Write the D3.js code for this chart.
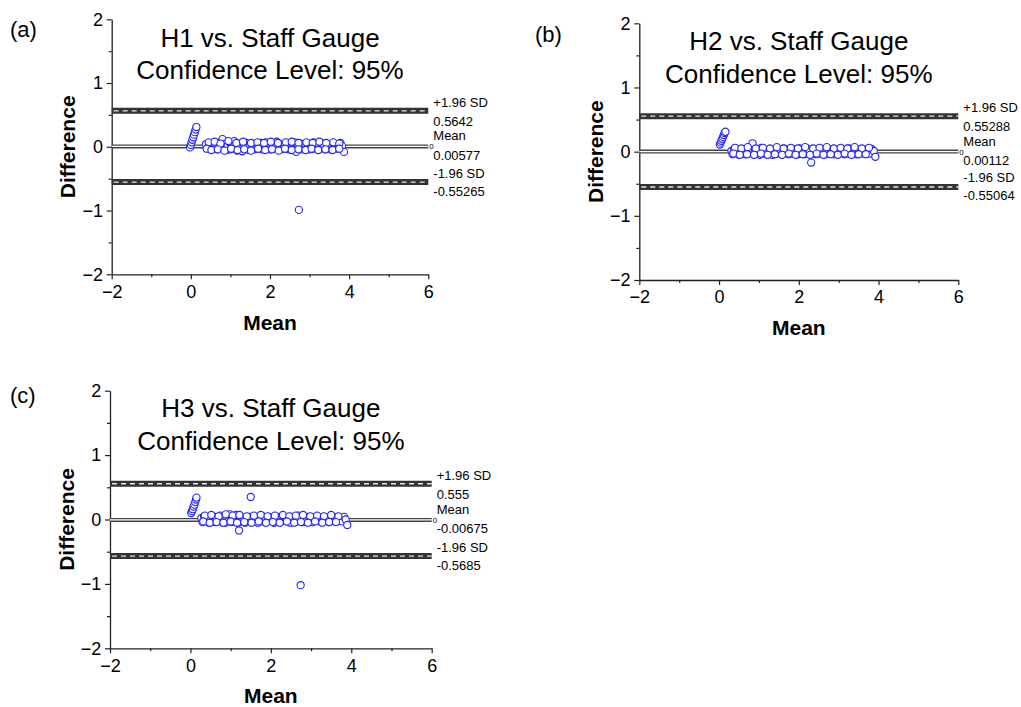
<!DOCTYPE html>
<html><head><meta charset="utf-8">
<script src="https://cdn.jsdelivr.net/npm/d3@7"></script>
<style>
body{margin:0;background:#fff}
svg{display:block}
text{font-family:"Liberation Sans",Arial,sans-serif;fill:#000}
</style>
</head><body>
<svg id="chart" width="1021" height="707"></svg>
<script>
// ---------- data ----------
const xTicks = [-2, 0, 2, 4, 6];
const xMinor = [-1, 1, 3, 5];
const yTicks = [-2, -1, 0, 1, 2];
const yMinor = [-1.5, -0.5, 0.5, 1.5];
const panelTags = ["(a)", "(b)", "(c)"];
const titleLines1 = ["H1 vs. Staff Gauge", "H2 vs. Staff Gauge", "H3 vs. Staff Gauge"];
const titleLine2 = "Confidence Level: 95%";
const upperLoA = [0.5642, 0.55288, 0.555];
const meanDiff = [0.00577, 0.00112, -0.00675];
const lowerLoA = [-0.55265, -0.55064, -0.5685];
const xLabel = "Mean";
const yLabel = "Difference";

const pointsH1 = [
[-0.02,-0.01],[0.0,0.03],[0.02,0.07],[0.04,0.11],[0.06,0.15],[0.08,0.19],[0.1,0.23],[0.12,0.27],[0.14,0.31],
[0.38,0.04],[0.42,-0.02],[0.47,0.05],[0.5,0.0],[0.55,-0.03],[0.58,0.06],[0.62,0.02],[0.66,-0.04],[0.7,0.03],[0.73,-0.02],
[0.77,0.08],[0.8,0.12],[0.83,-0.03],[0.86,0.05],[0.9,-0.05],[0.93,0.02],[0.97,0.07],[1.0,-0.04],[1.04,0.04],[1.07,-0.02],
[1.1,0.09],[1.13,0.03],[1.17,-0.06],[1.2,0.05],[1.24,-0.03],[1.27,0.02],[1.3,-0.07],[1.34,0.04],[1.37,-0.03],[1.4,0.06],
[1.44,0.0],[1.47,-0.05],[1.5,0.03],[1.54,-0.03],[1.57,0.05],[1.6,-0.04],[1.64,0.02],[1.67,-0.03],[1.7,0.04],[1.74,-0.02],
[1.77,0.06],[1.8,-0.04],[1.84,0.03],[1.87,-0.03],[1.9,0.07],[1.94,-0.02],[1.97,0.04],[2.0,-0.04],[2.04,0.03],[2.07,-0.03],
[2.1,0.05],[2.14,-0.02],[2.17,0.08],[2.2,-0.03],[2.24,0.04],[2.27,-0.04],[2.3,0.02],[2.34,-0.03],[2.37,0.05],[2.4,-0.02],
[2.44,0.03],[2.47,-0.04],[2.5,0.06],[2.54,-0.03],[2.57,0.04],[2.6,-0.05],[2.63,0.07],[2.66,-0.08],[2.7,0.03],[2.73,-0.03],
[2.77,0.05],[2.8,-0.04],[2.84,0.02],[2.87,-0.03],[2.9,0.04],[2.94,-0.02],[2.97,0.03],[3.0,-0.04],[3.04,0.05],[3.07,-0.03],
[3.1,0.07],[3.14,-0.02],[3.17,0.03],[3.2,-0.04],[3.24,0.04],[3.27,-0.03],[3.3,0.06],[3.34,-0.02],[3.37,0.03],[3.4,-0.04],
[3.44,0.04],[3.47,-0.03],[3.5,0.02],[3.54,-0.04],[3.57,0.03],[3.6,-0.02],[3.64,0.04],[3.67,-0.03],[3.7,0.02],[3.74,-0.02],
[3.78,0.06],[3.82,0.01],[3.87,-0.08],
[0.45,0.07],[0.6,0.08],[0.75,0.05],[0.95,0.09],[1.15,0.06],[1.32,0.08],[1.52,0.06],[1.68,0.07],[1.85,0.06],[2.02,0.08],
[2.2,0.06],[2.4,0.07],[2.55,0.08],[2.72,0.06],[2.92,0.07],[3.08,0.06],[3.25,0.08],[3.42,0.06],[3.6,0.07],[3.75,0.05],
[0.4,-0.03],[0.52,-0.05],[0.68,-0.04],[0.85,-0.06],[1.02,-0.03],[1.18,-0.05],[1.35,-0.04],[1.52,-0.06],[1.7,-0.03],[1.88,-0.05],
[2.05,-0.04],[2.22,-0.06],[2.38,-0.03],[2.55,-0.05],[2.72,-0.04],[2.9,-0.05],[3.05,-0.03],[3.22,-0.05],[3.4,-0.04],[3.58,-0.05],[3.75,-0.03],
[2.73,-0.99]
];
const pointsH2 = [
[0.02,0.11],[0.04,0.14],[0.06,0.17],[0.08,0.2],[0.1,0.23],[0.12,0.26],[0.14,0.29],[0.16,0.31],
[0.31,0.01],[0.34,-0.04],[0.38,0.04],[0.42,-0.02],[0.46,0.03],[0.5,-0.05],[0.54,0.02],[0.58,-0.03],[0.62,0.04],[0.66,-0.04],
[0.7,0.03],[0.74,-0.02],[0.78,0.05],[0.84,0.13],[0.86,-0.04],[0.9,0.04],[0.94,-0.03],[0.98,0.02],[1.02,-0.05],[1.06,0.06],
[1.1,-0.02],[1.14,0.03],[1.18,-0.04],[1.22,0.02],[1.26,-0.03],[1.3,0.04],[1.34,-0.05],[1.38,0.03],[1.42,-0.02],[1.46,0.04],
[1.5,-0.03],[1.54,0.02],[1.58,-0.04],[1.62,0.05],[1.66,-0.02],[1.7,0.03],[1.74,-0.04],[1.78,0.02],[1.82,-0.03],[1.86,0.04],
[1.9,-0.02],[1.94,0.03],[1.98,-0.04],[2.02,0.05],[2.06,-0.03],[2.1,0.02],[2.14,-0.04],[2.18,0.06],[2.22,-0.02],[2.26,0.03],
[2.31,-0.17],[2.34,-0.03],[2.38,0.04],[2.42,-0.04],[2.46,0.02],[2.5,-0.03],[2.54,0.05],[2.58,-0.02],[2.62,0.03],[2.66,-0.04],
[2.7,0.02],[2.74,-0.03],[2.78,0.04],[2.82,-0.02],[2.86,0.03],[2.9,-0.04],[2.94,0.02],[2.98,-0.03],[3.02,0.04],[3.06,-0.02],
[3.1,0.03],[3.14,-0.04],[3.18,0.02],[3.22,-0.03],[3.26,0.05],[3.3,-0.02],[3.34,0.03],[3.38,-0.03],[3.42,0.02],[3.46,-0.04],
[3.5,0.03],[3.54,-0.02],[3.58,0.02],[3.62,-0.03],[3.66,0.03],[3.7,-0.02],[3.74,0.02],[3.78,-0.03],[3.84,0.04],[3.88,0.01],
[0.4,0.06],[0.56,0.05],[0.72,0.07],[0.92,0.05],[1.1,0.06],[1.28,0.05],[1.45,0.07],[1.62,0.05],[1.8,0.06],[1.98,0.05],
[2.16,0.07],[2.36,0.05],[2.52,0.06],[2.7,0.07],[2.88,0.05],[3.05,0.06],[3.22,0.05],[3.4,0.07],[3.58,0.05],[3.76,0.06],
[0.36,-0.03],[0.52,-0.05],[0.7,-0.04],[0.88,-0.05],[1.05,-0.03],[1.22,-0.05],[1.4,-0.04],[1.58,-0.05],[1.75,-0.03],[1.92,-0.05],
[2.1,-0.04],[2.28,-0.05],[2.45,-0.03],[2.62,-0.05],[2.8,-0.04],[2.98,-0.05],[3.15,-0.03],[3.32,-0.05],[3.5,-0.04],[3.68,-0.04],
[3.92,-0.08]
];
const pointsH3 = [
[0.02,0.1],[0.04,0.13],[0.06,0.16],[0.08,0.2],[0.1,0.23],[0.12,0.27],[0.14,0.31],[0.15,0.34],
[0.27,0.02],[0.3,-0.04],[0.34,0.05],[0.38,-0.02],[0.42,0.03],[0.46,-0.05],[0.5,0.02],[0.54,-0.03],[0.58,0.04],[0.62,-0.04],
[0.66,0.03],[0.7,-0.02],[0.74,0.06],[0.78,-0.04],[0.82,0.02],[0.86,-0.05],[0.9,0.04],[0.94,-0.03],[0.98,0.08],[1.02,-0.04],
[1.06,0.03],[1.1,-0.02],[1.14,0.07],[1.18,-0.05],[1.21,-0.17],[1.24,0.04],[1.28,-0.03],[1.32,0.02],[1.36,-0.05],[1.4,0.03],
[1.44,-0.02],[1.48,0.04],[1.5,0.35],[1.52,-0.04],[1.56,0.02],[1.6,-0.03],[1.64,0.04],[1.68,-0.05],[1.72,0.03],[1.76,-0.02],
[1.8,0.05],[1.84,-0.04],[1.88,0.02],[1.92,-0.03],[1.96,0.04],[2.0,-0.02],[2.04,0.03],[2.08,-0.05],[2.12,0.02],[2.16,-0.03],
[2.2,0.04],[2.24,-0.04],[2.28,0.05],[2.32,-0.02],[2.36,0.03],[2.4,-0.03],[2.44,0.02],[2.48,-0.05],[2.52,0.04],[2.56,-0.02],
[2.6,0.03],[2.64,-0.03],[2.68,0.06],[2.72,-0.02],[2.76,0.02],[2.8,-0.04],[2.84,0.03],[2.88,-0.03],[2.92,0.04],[2.96,-0.02],
[3.0,0.02],[3.04,-0.04],[3.08,0.03],[3.12,-0.02],[3.16,0.05],[3.2,-0.03],[3.24,0.02],[3.28,-0.03],[3.32,0.04],[3.36,-0.02],
[3.4,0.02],[3.44,-0.04],[3.48,0.03],[3.52,-0.02],[3.56,0.02],[3.6,-0.03],[3.64,0.03],[3.68,-0.02],[3.72,0.02],[3.76,-0.03],
[3.82,0.04],[3.86,0.0],
[0.36,0.06],[0.52,0.07],[0.7,0.05],[0.88,0.08],[1.05,0.06],[1.22,0.07],[1.4,0.05],[1.58,0.06],[1.75,0.07],[1.92,0.05],
[2.1,0.06],[2.3,0.07],[2.46,0.05],[2.62,0.06],[2.8,0.07],[2.98,0.05],[3.15,0.06],[3.32,0.05],[3.5,0.07],[3.68,0.05],
[0.32,-0.03],[0.48,-0.05],[0.65,-0.04],[0.82,-0.05],[1.0,-0.03],[1.16,-0.05],[1.34,-0.04],[1.52,-0.05],[1.7,-0.03],[1.88,-0.05],
[2.05,-0.04],[2.22,-0.05],[2.4,-0.03],[2.58,-0.05],[2.75,-0.04],[2.92,-0.05],[3.1,-0.03],[3.28,-0.05],[3.45,-0.04],[3.62,-0.04],
[3.9,-0.085],[2.74,-1.02]
];
const allPoints = [pointsH1, pointsH2, pointsH3];

// ---------- layout (pixel positions) ----------
const layout = [
  {x0:111.7, x1:428.3, y0:19.3, y1:274.3, tagX:10, tagY:37, yLabX:75, xLabY:330, t1:46.7, t2:79.3},
  {x0:639.3, x1:958.3, y0:23.3, y1:280.0, tagX:535, tagY:42, yLabX:603, xLabY:335, t1:50.0, t2:82.7},
  {x0:110.0, x1:431.7, y0:390.7, y1:648.3, tagX:10, tagY:403, yLabX:74, xLabY:703, t1:416.7, t2:450.0}
];

const svg = d3.select("#chart");
const intFmt = d3.format("d");

layout.forEach((L, i) => {
  const x = d3.scaleLinear().domain([-2, 6]).range([L.x0, L.x1]);
  const y = d3.scaleLinear().domain([-2, 2]).range([L.y1, L.y0]);
  const g = svg.append("g");
  const cx = (L.x0 + L.x1) / 2, cy = (L.y0 + L.y1) / 2;

  // axes
  g.append("g").attr("transform", `translate(0,${L.y1})`)
    .call(d3.axisBottom(x).tickValues(xTicks).tickFormat(intFmt).tickSize(5).tickSizeOuter(0).tickPadding(5.5));
  g.append("g").attr("transform", `translate(0,${L.y1})`)
    .call(d3.axisBottom(x).tickValues(xMinor).tickSize(3).tickFormat(""))
    .call(s => s.select(".domain").remove());
  g.append("g").attr("transform", `translate(${L.x0},0)`)
    .call(d3.axisLeft(y).tickValues(yTicks).tickFormat(intFmt).tickSize(5).tickSizeOuter(0).tickPadding(3.7));
  g.append("g").attr("transform", `translate(${L.x0},0)`)
    .call(d3.axisLeft(y).tickValues(yMinor).tickSize(3).tickFormat(""))
    .call(s => s.select(".domain").remove());
  g.selectAll(".domain").attr("stroke", "#222").attr("stroke-width", 1.3);
  g.selectAll(".tick line").attr("stroke", "#222").attr("stroke-width", 1.2);
  g.selectAll(".tick text").attr("font-size", 18).attr("font-family", '"Liberation Sans",Arial,sans-serif').attr("fill", "#000");

  // limits of agreement bands
  [upperLoA[i], lowerLoA[i]].forEach(v => {
    g.append("line").attr("x1", x(-2)).attr("x2", x(6)).attr("y1", y(v)).attr("y2", y(v))
      .attr("stroke", "#333").attr("stroke-width", 6);
    g.append("line").attr("x1", x(-2) + 2).attr("x2", x(6)).attr("y1", y(v)).attr("y2", y(v))
      .attr("stroke", "#e6e6e6").attr("stroke-width", 1.3).attr("stroke-dasharray", "5,4");
  });
  // mean line (double)
  g.append("line").attr("x1", x(-2)).attr("x2", x(6)).attr("y1", y(meanDiff[i])).attr("y2", y(meanDiff[i]))
    .attr("stroke", "#444").attr("stroke-width", 4);
  g.append("line").attr("x1", x(-2)).attr("x2", x(6)).attr("y1", y(meanDiff[i])).attr("y2", y(meanDiff[i]))
    .attr("stroke", "#fff").attr("stroke-width", 1.3);
  g.append("text").attr("x", x(6) + 1).attr("y", y(meanDiff[i]) + 3).attr("font-size", 8).text("0");

  // side labels
  const lx = x(6) + 5;
  const lab = (yy, t) => g.append("text").attr("x", lx).attr("y", yy).attr("font-size", 13).text(t);
  lab(y(upperLoA[i]) - 4, "+1.96 SD");
  lab(y(upperLoA[i]) + 15, String(upperLoA[i]));
  lab(y(meanDiff[i]) - 6, "Mean");
  lab(y(meanDiff[i]) + 13.5, String(meanDiff[i]));
  lab(y(lowerLoA[i]) - 4.5, "-1.96 SD");
  lab(y(lowerLoA[i]) + 13.5, String(lowerLoA[i]));

  // points
  g.append("g").selectAll("circle").data(allPoints[i]).join("circle")
    .attr("cx", d => x(d[0])).attr("cy", d => y(d[1])).attr("r", 3.6)
    .attr("fill", "#fff").attr("stroke", "#2222ff").attr("stroke-width", 1.1);

  // titles
  g.append("text").attr("x", cx).attr("y", L.t1).attr("text-anchor", "middle").attr("font-size", 26).text(titleLines1[i]);
  g.append("text").attr("x", cx).attr("y", L.t2).attr("text-anchor", "middle").attr("font-size", 26).text(titleLine2);

  // axis titles
  g.append("text").attr("x", cx).attr("y", L.xLabY).attr("text-anchor", "middle")
    .attr("font-size", 21).attr("font-weight", "bold").text(xLabel);
  g.append("text").attr("transform", `translate(${L.yLabX},${cy}) rotate(-90)`).attr("text-anchor", "middle")
    .attr("font-size", 21).attr("font-weight", "bold").text(yLabel);

  // panel tag
  g.append("text").attr("x", L.tagX).attr("y", L.tagY).attr("font-size", 22).text(panelTags[i]);
});
</script>
</body></html>
